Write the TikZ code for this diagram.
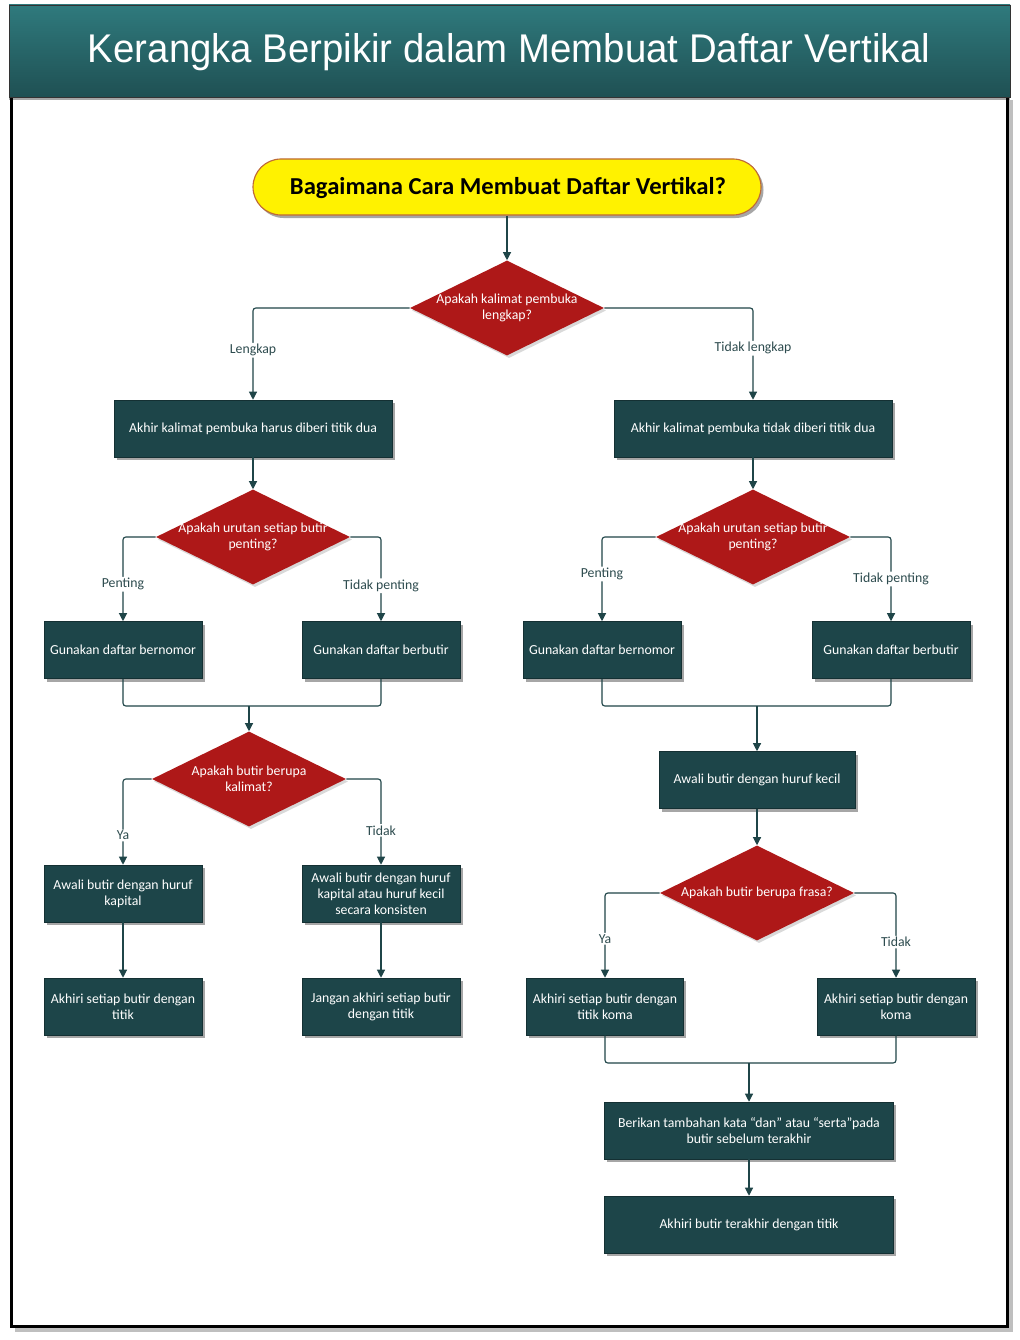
\documentclass[tikz,border=0pt]{standalone}
\usepackage{fontspec}
\setmainfont{Carlito}
\newfontfamily\titlefont{Liberation Sans}
\usetikzlibrary{arrows.meta,shapes.geometric,shadows,calc}
\newlength{\pxu}\setlength{\pxu}{0.025cm}
\definecolor{boxc}{RGB}{29,69,73}
\definecolor{diac}{RGB}{174,24,24}
\definecolor{linec}{RGB}{31,69,72}
\definecolor{lblc}{RGB}{45,75,78}
\definecolor{bartop}{RGB}{47,122,125}
\definecolor{barbot}{RGB}{31,80,83}
\definecolor{ybord}{RGB}{190,105,55}
\begin{document}
\begin{tikzpicture}[x=0.025cm,y=-0.025cm,
  boxtext/.style={font=\fontsize{9.8}{11.4}\selectfont},
  stepbox/.style={draw=boxc!70!black, line width=0.4pt, fill=boxc, text=white, boxtext, align=center,
    minimum width=#1, minimum height=57\pxu, inner sep=0pt,
    drop shadow={shadow xshift=2.5\pxu, shadow yshift=-3\pxu, opacity=0.35, fill=black}},
  dia/.style={diamond, fill=diac, minimum width=194\pxu, minimum height=95\pxu, inner sep=0pt,
    drop shadow={shadow xshift=2\pxu, shadow yshift=-2.5\pxu, opacity=0.15, fill=black}},
  dtext/.style={text=white, boxtext, align=center, inner sep=0pt},
  conn/.style={draw=linec, line width=0.8pt, rounded corners=2pt},
  arr/.style={conn, -{Triangle[length=5.7pt,width=5.7pt]}},
  lbl/.style={fill=white, text=lblc, boxtext, inner sep=1pt}
]
\useasboundingbox (0,0) rectangle (1019,1340);
% frame
\fill[white] (0,0) rectangle (1019,1340);
\draw[line width=4\pxu, black!25] (15,1330) -- (1011,1330) -- (1011,100);
\fill[white] (11.5,97) rectangle (1007.5,1326);
\draw[line width=3\pxu, black] (11.5,97) -- (11.5,1326) -- (1007.5,1326) -- (1007.5,97);
% title bar
\node[draw=black!80, line width=0.6pt, top color=bartop, bottom color=barbot,
  minimum width=1001\pxu, minimum height=92\pxu, inner sep=0pt,
  drop shadow={shadow xshift=0\pxu, shadow yshift=-3\pxu, opacity=0.35, fill=black}] (bar) at (509.5,51) {};
\node[anchor=base, text=white, inner sep=0pt] (title) at (509,63)
  {\resizebox{842\pxu}{\height}{\titlefont\fontsize{28.5}{30}\selectfont Kerangka Berpikir dalam Membuat Daftar Vertikal}};
% start
\node[draw=ybord, line width=0.8pt, fill=yellow, rounded corners=28\pxu, minimum width=508\pxu, minimum height=56\pxu,
  drop shadow={shadow xshift=2.5\pxu, shadow yshift=-3\pxu, opacity=0.35, fill=black}] (q) at (507,187) {};
\node[anchor=base, inner sep=0pt] (qt) at (508,195)
  {\resizebox{436\pxu}{\height}{\bfseries\fontsize{17.3}{20}\selectfont Bagaimana Cara Membuat Daftar Vertikal?}};
% diamonds
\node[dia] (d1) at (507,308) {};
\node[dtext] (d1t) at (507,308) {Apakah kalimat pembuka\\lengkap?};
\node[dia] (d2) at (253,537) {};
\node[dtext] (d2t) at (253,537) {Apakah urutan setiap butir\\penting?};
\node[dia] (d3) at (753,537) {};
\node[dtext] (d3t) at (753,537) {Apakah urutan setiap butir\\penting?};
\node[dia] (d4) at (249,779) {};
\node[dtext] (d4t) at (249,779) {Apakah butir berupa\\kalimat?};
\node[dia] (d5) at (757,893) {};
\node[dtext] (d5t) at (757,893) {Apakah butir berupa frasa?};
% boxes
\node[stepbox=278\pxu] (b1) at (253,428.5) {Akhir kalimat pembuka harus diberi titik dua};
\node[stepbox=278\pxu] (b2) at (753,428.5) {Akhir kalimat pembuka tidak diberi titik dua};
\node[stepbox=158\pxu] (b3) at (123,650) {Gunakan daftar bernomor};
\node[stepbox=158\pxu] (b4) at (381,650) {Gunakan daftar berbutir};
\node[stepbox=158\pxu] (b9) at (602,650) {Gunakan daftar bernomor};
\node[stepbox=158\pxu] (b10) at (891,650) {Gunakan daftar berbutir};
\node[stepbox=158\pxu] (b5) at (123,893.5) {Awali butir dengan huruf\\kapital};
\node[stepbox=158\pxu] (b6) at (381,893.5) {Awali butir dengan huruf\\kapital atau huruf kecil\\secara konsisten};
\node[stepbox=158\pxu] (b7) at (123,1006.5) {Akhiri setiap butir dengan\\titik};
\node[stepbox=158\pxu] (b8) at (381,1006.5) {Jangan akhiri setiap butir\\dengan titik};
\node[stepbox=196\pxu] (b11) at (757,780) {Awali butir dengan huruf kecil};
\node[stepbox=157\pxu] (b12) at (605,1006.5) {Akhiri setiap butir dengan\\titik koma};
\node[stepbox=158\pxu] (b13) at (896,1006.5) {Akhiri setiap butir dengan\\koma};
\node[stepbox=289\pxu] (b14) at (749,1130.5) {Berikan tambahan kata “dan” atau “serta”pada\\butir sebelum terakhir};
\node[stepbox=289\pxu] (b15) at (749,1224.5) {Akhiri butir terakhir dengan titik};
% merge points
\coordinate (m1) at (249,706);
\coordinate (m2) at (757,706);
\coordinate (m3) at (749,1063);
% connectors
\draw[arr] (q.south) -- (d1.north);
\draw[arr] (d1.west) -| node[lbl,pos=0.73] (l1) {Lengkap} (b1.north);
\draw[arr] (d1.east) -| node[lbl,pos=0.72] (l2) {Tidak lengkap} (b2.north);
\draw[arr] (b1.south) -- (d2.north);
\draw[arr] (b2.south) -- (d3.north);
\draw[arr] (d2.west) -| node[lbl,pos=0.78] (l3) {Penting} (b3.north);
\draw[arr] (d2.east) -| node[lbl,pos=0.79] (l4) {Tidak penting} (b4.north);
\draw[arr] (d3.west) -| node[lbl,pos=0.72] (l5) {Penting} (b9.north);
\draw[arr] (d3.east) -| node[lbl,pos=0.75] (l6) {Tidak penting} (b10.north);
\draw[conn] (b3.south) |- (m1) -| (b4.south);
\draw[arr] (m1) -- (d4.north);
\draw[conn] (b9.south) |- (m2) -| (b10.south);
\draw[arr] (m2) -- (b11.north);
\draw[arr] (d4.west) -| node[lbl,pos=0.83] (l7) {Ya} (b5.north);
\draw[arr] (d4.east) -| node[lbl,pos=0.80] (l8) {Tidak} (b6.north);
\draw[arr] (b5.south) -- (b7.north);
\draw[arr] (b6.south) -- (b8.north);
\draw[arr] (b11.south) -- (d5.north);
\draw[arr] (d5.west) -| node[lbl,pos=0.77] (l9) {Ya} (b12.north);
\draw[arr] (d5.east) -| node[lbl,pos=0.79] (l10) {Tidak} (b13.north);
\draw[conn] (b12.south) |- (m3) -| (b13.south);
\draw[arr] (m3) -- (b14.north);
\draw[arr] (b14.south) -- (b15.north);
\end{tikzpicture}
\end{document}
